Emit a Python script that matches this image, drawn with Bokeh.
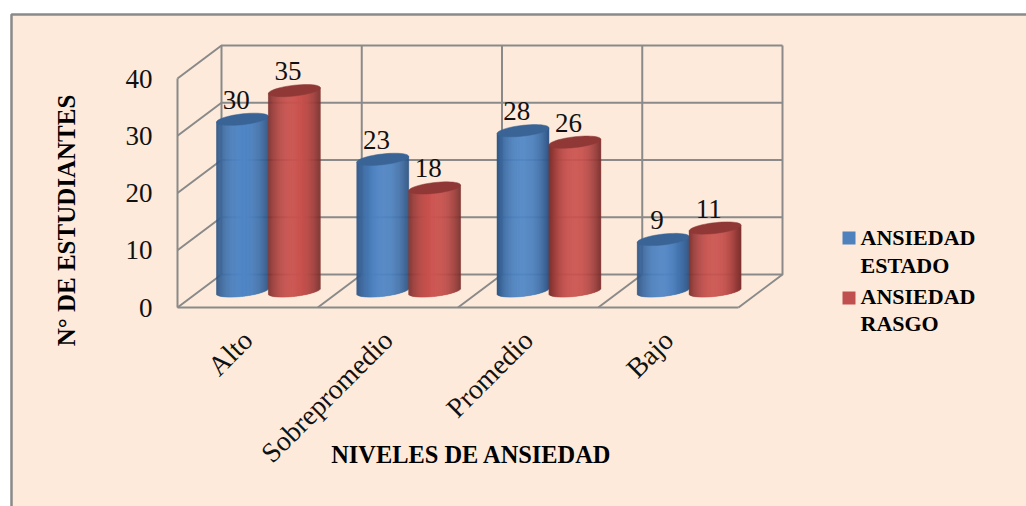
import math
from bokeh.plotting import figure
from bokeh.models import LinearAxis, FixedTicker
from bokeh.core.properties import value
from bokeh.embed import file_html
from bokeh.resources import INLINE

categories = ["Alto", "Sobrepromedio", "Promedio", "Bajo"]
estado = [30, 23, 28, 9]
rasgo = [35, 18, 26, 11]
y_ticks = [0, 10, 20, 30, 40]
series_names = [["ANSIEDAD", "ESTADO"], ["ANSIEDAD", "RASGO"]]
x_title = "NIVELES DE ANSIEDAD"
y_title = "N° DE ESTUDIANTES"

W, H = 1026, 506
X0, X4 = 177.0, 738.0      # front plane, pixels
Y0, Y40 = 307.0, 78.0
SX = (X4 - X0) / 4
SY = (Y0 - Y40) / 40
DX = 44 / SX               # depth offset in data units
DY = 33 / SY
def fx(px): return (px - X0) / SX
def fy(py): return (Y0 - py) / SY

SERIF = value("Liberation Serif")
GRID = "#8a8a8a"
PANEL = "#fdeada"

p = figure(width=W, height=H, output_backend="svg", toolbar_location=None,
           x_range=(fx(0), fx(W)), y_range=(fy(H), fy(0)),
           x_axis_type=None, y_axis_type=None, min_border=0, outline_line_color=None,
           background_fill_color="white", border_fill_color="white")
p.grid.visible = False

# chart panel
p.quad(left=[fx(11)], right=[fx(W)], top=[fy(14)], bottom=[fy(H)],
       fill_color=PANEL, line_color=None)
p.line([fx(11), fx(11), fx(W)], [fy(H), fy(14), fy(14)], line_color=GRID, line_width=2.5)

# 3-D walls
xs, ys = [], []
for v in y_ticks:
    xs.append([0, DX, 4 + DX]); ys.append([v, v + DY, v + DY])
for i in range(1, 5):
    xs.append([i, i + DX, i + DX]); ys.append([0, DY, 40 + DY])
xs.append([DX, DX]); ys.append([DY, 40 + DY])
p.multi_line(xs, ys, line_color=GRID, line_width=2)

# cylinders
A = 0.185          # half width, data units
PX_A = A * SX
SLOPE = 0.11
B_PX = 5.4
SHIFT = -1.2 / SX
EDGE = {0: (46, 84, 132), 1: (122, 48, 46)}
MID = {0: (80, 134, 198), 1: (203, 84, 80)}
TOP = {0: "#3a6496", 1: "#8f3836"}

def hexc(c): return "#%02x%02x%02x" % tuple(int(round(q)) for q in c)

def cylinder(cx, v, s):
    base_x = cx + DX / 2 + SHIFT
    base_y = DY / 2
    n = int(2 * PX_A)
    left, right, top, bottom, cols = [], [], [], [], []
    for k in range(n):
        t0, t1 = k / n, (k + 1) / n
        u = 2 * (t0 + t1) / 2 - 1
        tilt = SLOPE * u * PX_A / SY
        left.append(base_x - A + 2 * A * t0)
        right.append(base_x - A + 2 * A * t1)
        bottom.append(base_y + tilt - B_PX * math.sqrt(max(0, 1 - u * u)) / SY)
        top.append(base_y + v + tilt)
        f = 1 - abs(u) ** 2.2
        cols.append(hexc([EDGE[s][j] + (MID[s][j] - EDGE[s][j]) * f for j in range(3)]))
    p.quad(left=left, right=right, top=top, bottom=bottom, fill_color=cols, line_color=cols, line_width=0.5)
    ex, ey = [], []
    m = 48
    for k in range(m):
        a = 2 * math.pi * k / m
        u = math.cos(a)
        ex.append(base_x + A * u)
        ey.append(base_y + v + (SLOPE * u * PX_A + B_PX * math.sin(a)) / SY)
    p.patch(ex, ey, fill_color=TOP[s], line_color=TOP[s], line_width=0.5)

lx, ly, lt = [], [], []
for i, (a, b) in enumerate(zip(estado, rasgo)):
    cylinder(i + 0.5 - A, a, 0)
    cylinder(i + 0.5 + A, b, 1)
    lx += [i + 0.5 - A + DX / 2 - 7.5 / SX, i + 0.5 + A + DX / 2 - 7.5 / SX]
    ly += [a + DY / 2 + 19.5 / SY, b + DY / 2 + 19.5 / SY]
    lt += [str(a), str(b)]
p.text(lx, ly, text=lt, text_font=SERIF, text_font_size="27px", text_color="#111111",
       text_align="center", text_baseline="middle")

# axes
ya = LinearAxis(fixed_location=0, ticker=FixedTicker(ticks=y_ticks), bounds=(0, 40),
                axis_line_color=GRID, axis_line_width=2,
                major_tick_line_color=None, minor_tick_line_color=None,
                major_label_text_font="Liberation Serif", major_label_text_font_size="27px",
                major_label_text_color="#111111", major_label_standoff=19)
p.add_layout(ya, "left")
xa = LinearAxis(fixed_location=0, ticker=FixedTicker(ticks=[i + 0.5 for i in range(4)]), bounds=(0, 4),
                axis_line_color=GRID, axis_line_width=2,
                major_tick_line_color=None, minor_tick_line_color=None,
                major_label_overrides={i + 0.5: c for i, c in enumerate(categories)},
                major_label_orientation=math.pi / 4,
                major_label_text_font="Liberation Serif", major_label_text_font_size="28px",
                major_label_text_color="#111111", major_label_standoff=22)
p.add_layout(xa, "below")

# titles
p.text([fx(471)], [fy(454)], text=[x_title], text_font=SERIF, text_font_style="bold", text_font_size="24.4px",
       text_color="#000000", text_align="center", text_baseline="middle")
p.text([fx(66)], [fy(220)], text=[y_title], text_font=SERIF, text_font_style="bold", text_font_size="25px",
       text_color="#000000", text_align="center", text_baseline="middle", angle=math.pi / 2)

# legend
p.rect([fx(848.5), fx(848.5)], [fy(237.5), fy(297.5)], width=13, height=13,
       width_units="screen", height_units="screen", fill_color=["#4f81bd", "#c0504d"], line_color=None)
centres = [237, 264.5, 295.5, 323]
lab = series_names[0] + series_names[1]
p.text([fx(860)] * 4, [fy(b) for b in centres], text=lab, text_font=SERIF, text_font_style="bold",
       text_font_size="22px", text_color="#000000", text_align="left", text_baseline="middle")

open("out.html", "w").write(file_html(p, INLINE))
